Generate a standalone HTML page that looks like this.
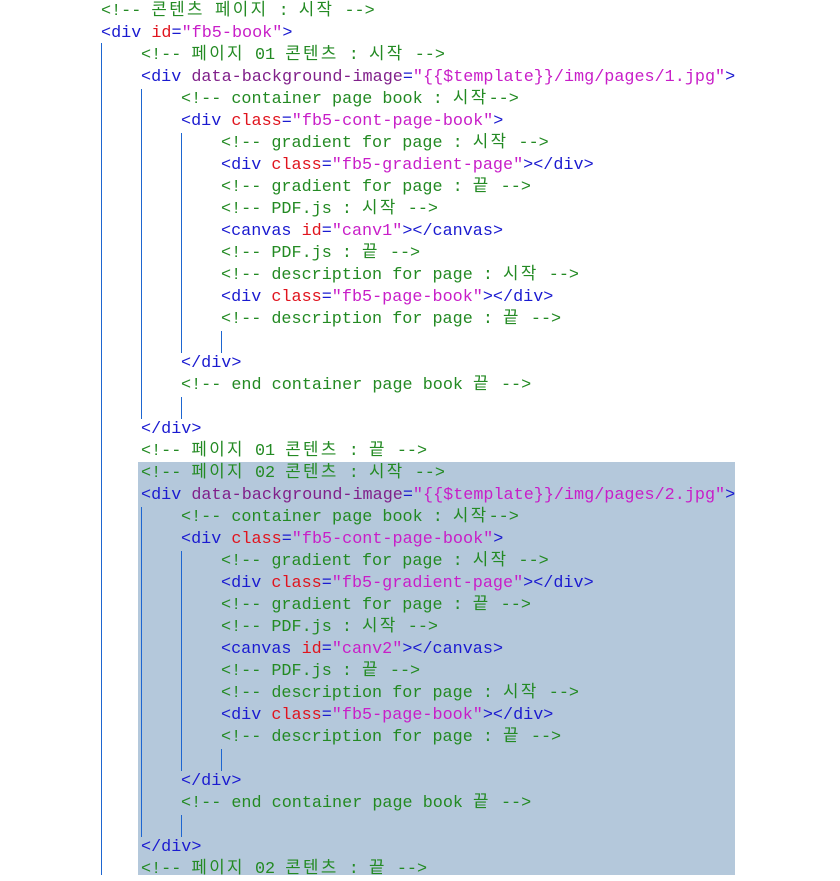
<!DOCTYPE html>
<html><head><meta charset="utf-8"><style>
body{margin:0;width:840px;height:878px;background:#fff;position:relative;overflow:hidden;
font-family:"Liberation Mono","Noto Sans CJK KR",monospace;font-size:16.8px;}
.r{position:absolute;height:22px;line-height:22px;white-space:pre;}
.c{color:#238a23}.t{color:#1a1ad0}.a{color:#e0141e}.v{color:#c81ec8}.p{color:#80208a}
.k{letter-spacing:2.4px}
.g{position:absolute;width:1px;background:#1e66d0}
#hl{position:absolute;left:138px;top:462px;width:597px;height:413px;background:#b4c8db}
</style></head><body>
<div id="hl"></div>
<div class="g" style="left:101px;top:43px;height:832px"></div>
<div class="g" style="left:141px;top:89px;height:330px"></div>
<div class="g" style="left:181px;top:133px;height:220px"></div>
<div class="g" style="left:181px;top:397px;height:22px"></div>
<div class="g" style="left:221px;top:331px;height:22px"></div>
<div class="g" style="left:141px;top:507px;height:330px"></div>
<div class="g" style="left:181px;top:551px;height:220px"></div>
<div class="g" style="left:181px;top:815px;height:22px"></div>
<div class="g" style="left:221px;top:749px;height:22px"></div>

<div class="r c" style="left:101px;top:1px">&lt;!-- <span class="k">콘텐츠</span> <span class="k">페이지</span> : <span class="k">시작</span> --&gt;</div>
<div class="r" style="left:101px;top:23px"><span class="t">&lt;div </span><span class="a">id</span><span class="t">=</span><span class="v">"fb5-book"</span><span class="t">&gt;</span></div>

<div class="r c" style="left:141px;top:45px">&lt;!-- <span class="k">페이지</span> 01 <span class="k">콘텐츠</span> : <span class="k">시작</span> --&gt;</div>
<div class="r" style="left:141px;top:67px"><span class="t">&lt;div </span><span class="p">data-background-image</span><span class="t">=</span><span class="v">"{{$template}}/img/pages/1.jpg"</span><span class="t">&gt;</span></div>
<div class="r c" style="left:181px;top:89px">&lt;!-- container page book : <span class="k">시작</span>--&gt;</div>
<div class="r" style="left:181px;top:111px"><span class="t">&lt;div </span><span class="a">class</span><span class="t">=</span><span class="v">"fb5-cont-page-book"</span><span class="t">&gt;</span></div>
<div class="r c" style="left:221px;top:133px">&lt;!-- gradient for page : <span class="k">시작</span> --&gt;</div>
<div class="r" style="left:221px;top:155px"><span class="t">&lt;div </span><span class="a">class</span><span class="t">=</span><span class="v">"fb5-gradient-page"</span><span class="t">&gt;&lt;/div&gt;</span></div>
<div class="r c" style="left:221px;top:177px">&lt;!-- gradient for page : <span class="k">끝</span> --&gt;</div>
<div class="r c" style="left:221px;top:199px">&lt;!-- PDF.js : <span class="k">시작</span> --&gt;</div>
<div class="r" style="left:221px;top:221px"><span class="t">&lt;canvas </span><span class="a">id</span><span class="t">=</span><span class="v">"canv1"</span><span class="t">&gt;&lt;/canvas&gt;</span></div>
<div class="r c" style="left:221px;top:243px">&lt;!-- PDF.js : <span class="k">끝</span> --&gt;</div>
<div class="r c" style="left:221px;top:265px">&lt;!-- description for page : <span class="k">시작</span> --&gt;</div>
<div class="r" style="left:221px;top:287px"><span class="t">&lt;div </span><span class="a">class</span><span class="t">=</span><span class="v">"fb5-page-book"</span><span class="t">&gt;&lt;/div&gt;</span></div>
<div class="r c" style="left:221px;top:309px">&lt;!-- description for page : <span class="k">끝</span> --&gt;</div>
<div class="r t" style="left:181px;top:353px">&lt;/div&gt;</div>
<div class="r c" style="left:181px;top:375px">&lt;!-- end container page book <span class="k">끝</span> --&gt;</div>
<div class="r t" style="left:141px;top:419px">&lt;/div&gt;</div>
<div class="r c" style="left:141px;top:441px">&lt;!-- <span class="k">페이지</span> 01 <span class="k">콘텐츠</span> : <span class="k">끝</span> --&gt;</div>

<div class="r c" style="left:141px;top:463px">&lt;!-- <span class="k">페이지</span> 02 <span class="k">콘텐츠</span> : <span class="k">시작</span> --&gt;</div>
<div class="r" style="left:141px;top:485px"><span class="t">&lt;div </span><span class="p">data-background-image</span><span class="t">=</span><span class="v">"{{$template}}/img/pages/2.jpg"</span><span class="t">&gt;</span></div>
<div class="r c" style="left:181px;top:507px">&lt;!-- container page book : <span class="k">시작</span>--&gt;</div>
<div class="r" style="left:181px;top:529px"><span class="t">&lt;div </span><span class="a">class</span><span class="t">=</span><span class="v">"fb5-cont-page-book"</span><span class="t">&gt;</span></div>
<div class="r c" style="left:221px;top:551px">&lt;!-- gradient for page : <span class="k">시작</span> --&gt;</div>
<div class="r" style="left:221px;top:573px"><span class="t">&lt;div </span><span class="a">class</span><span class="t">=</span><span class="v">"fb5-gradient-page"</span><span class="t">&gt;&lt;/div&gt;</span></div>
<div class="r c" style="left:221px;top:595px">&lt;!-- gradient for page : <span class="k">끝</span> --&gt;</div>
<div class="r c" style="left:221px;top:617px">&lt;!-- PDF.js : <span class="k">시작</span> --&gt;</div>
<div class="r" style="left:221px;top:639px"><span class="t">&lt;canvas </span><span class="a">id</span><span class="t">=</span><span class="v">"canv2"</span><span class="t">&gt;&lt;/canvas&gt;</span></div>
<div class="r c" style="left:221px;top:661px">&lt;!-- PDF.js : <span class="k">끝</span> --&gt;</div>
<div class="r c" style="left:221px;top:683px">&lt;!-- description for page : <span class="k">시작</span> --&gt;</div>
<div class="r" style="left:221px;top:705px"><span class="t">&lt;div </span><span class="a">class</span><span class="t">=</span><span class="v">"fb5-page-book"</span><span class="t">&gt;&lt;/div&gt;</span></div>
<div class="r c" style="left:221px;top:727px">&lt;!-- description for page : <span class="k">끝</span> --&gt;</div>
<div class="r t" style="left:181px;top:771px">&lt;/div&gt;</div>
<div class="r c" style="left:181px;top:793px">&lt;!-- end container page book <span class="k">끝</span> --&gt;</div>
<div class="r t" style="left:141px;top:837px">&lt;/div&gt;</div>
<div class="r c" style="left:141px;top:859px">&lt;!-- <span class="k">페이지</span> 02 <span class="k">콘텐츠</span> : <span class="k">끝</span> --&gt;</div>
</body></html>
